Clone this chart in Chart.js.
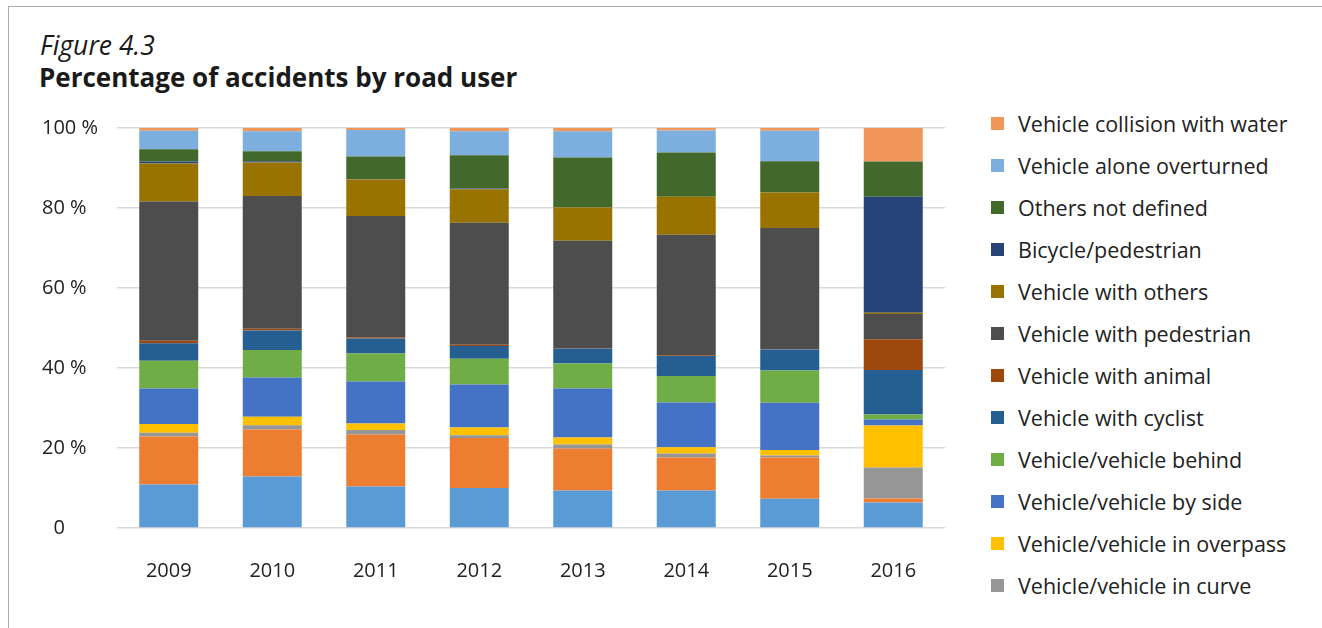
<!DOCTYPE html>
<html>
<head>
<meta charset="utf-8">
<script src="https://cdn.jsdelivr.net/npm/chart.js@4.4.1/dist/chart.umd.min.js"></script>
<style>
  html, body { margin: 0; padding: 0; background: #fff; }
  body { width: 1322px; height: 628px; position: relative; overflow: hidden; font-family: "Open Sans", sans-serif; color: #222; }
  .frame { position: absolute; left: 8px; top: 6px; right: -4px; bottom: -4px; border-left: 1.5px solid #aaa; border-top: 1.5px solid #aaa; }
  .fig { position: absolute; left: 40px; top: 27px; font-size: 26.5px; font-style: italic; color: #1a1a1a; }
  .title { position: absolute; left: 39px; top: 59px; font-size: 26px; font-weight: bold; color: #1a1a1a; }
  #wrap { position: absolute; left: 0; top: 0; width: 960px; height: 628px; }
  #legend { position: absolute; left: 991px; top: 102px; }
  .item { height: 42px; display: flex; align-items: center; font-size: 21.5px; white-space: nowrap; }
  .sw { width: 13px; height: 13px; margin-right: 14px; flex: none; }
</style>
</head>
<body>
<div class="frame"></div>
<div class="fig">Figure 4.3</div>
<div class="title">Percentage of accidents by road user</div>
<div id="wrap"><canvas id="chart"></canvas></div>
<div id="legend"></div>
<script>
const years = ['2009', '2010', '2011', '2012', '2013', '2014', '2015', '2016'];
const yTickLabels = ['\u20070', '20 %', '40 %', '60 %', '80 %', '100 %'];

// bottom to top of each stack
const vvFront     = [10.9, 12.9, 10.4, 10.0,  9.4,  9.4,  7.3,  6.4];
const vvOther     = [12.0, 11.7, 13.0, 12.5, 10.5,  8.2, 10.3,  1.0];
const vvCurve     = [ 0.9,  1.1,  1.1,  0.7,  1.0,  1.0,  0.5,  7.7];
const vvOverpass  = [ 2.2,  2.1,  1.6,  1.9,  1.7,  1.6,  1.4, 10.5];
const vvSide      = [ 8.9,  9.8, 10.5, 10.8, 12.3, 11.2, 11.8,  1.5];
const vvBehind    = [ 6.9,  6.9,  7.0,  6.4,  6.2,  6.6,  8.1,  1.3];
const withCyclist = [ 4.4,  4.9,  3.8,  3.2,  3.8,  5.0,  5.2, 11.1];
const withAnimal  = [ 0.6,  0.4,  0.3,  0.3,  0.1,  0.2,  0.1,  7.7];
const withPed     = [34.8, 33.2, 30.3, 30.5, 26.8, 30.1, 30.3,  6.3];
const withOthers  = [ 9.5,  8.4,  9.1,  8.4,  8.3,  9.5,  8.9,  0.3];
const bicyclePed  = [ 0.5,  0.3,  0.1,  0.2,  0.0,  0.0,  0.0, 29.0];
const notDefined  = [ 3.1,  2.5,  5.7,  8.3, 12.5, 11.1,  7.8,  8.8];
const overturned  = [ 4.6,  5.0,  6.6,  6.0,  6.6,  5.5,  7.6,  0.0];
const water       = [ 0.7,  0.8,  0.6,  0.8,  0.8,  0.8,  0.7,  8.4];

const series = [
  { label: 'Vehicle/vehicle in front', data: vvFront, color: '#5B9BD5', legend: false },
  { label: 'Vehicle/vehicle other', data: vvOther, color: '#ED7D31', legend: false },
  { label: 'Vehicle/vehicle in curve', data: vvCurve, color: '#969696', legend: true },
  { label: 'Vehicle/vehicle in overpass', data: vvOverpass, color: '#FFC000', legend: true },
  { label: 'Vehicle/vehicle by side', data: vvSide, color: '#4472C4', legend: true },
  { label: 'Vehicle/vehicle behind', data: vvBehind, color: '#70AD47', legend: true },
  { label: 'Vehicle with cyclist', data: withCyclist, color: '#255E91', legend: true },
  { label: 'Vehicle with animal', data: withAnimal, color: '#9E480E', legend: true },
  { label: 'Vehicle with pedestrian', data: withPed, color: '#4D4D4D', legend: true },
  { label: 'Vehicle with others', data: withOthers, color: '#997300', legend: true },
  { label: 'Bicycle/pedestrian', data: bicyclePed, color: '#264478', legend: true },
  { label: 'Others not defined', data: notDefined, color: '#43682B', legend: true },
  { label: 'Vehicle alone overturned', data: overturned, color: '#7CAFDD', legend: true },
  { label: 'Vehicle collision with water', data: water, color: '#F1975A', legend: true }
];

const ctx = document.getElementById('chart').getContext('2d');
new Chart(ctx, {
  type: 'bar',
  data: {
    labels: years,
    datasets: series.map(s => ({
      label: s.label,
      data: s.data,
      backgroundColor: s.color,
      borderWidth: 0,
      barPercentage: 0.57,
      categoryPercentage: 1
    }))
  },
  options: {
    responsive: true,
    maintainAspectRatio: false,
    animation: false,
    layout: { padding: { left: 42, top: 128, right: 15, bottom: 14 } },
    plugins: { legend: { display: false }, tooltip: { enabled: false } },
    scales: {
      x: {
        stacked: true,
        grid: { display: false, drawTicks: false },
        border: { display: false },
        ticks: { color: '#222', padding: 31, font: { family: 'Open Sans', size: 20 } }
      },
      y: {
        stacked: true,
        min: 0,
        max: 100,
        grid: { color: '#d9d9d9', lineWidth: 1.5, drawTicks: false },
        border: { display: false },
        ticks: {
          stepSize: 20,
          crossAlign: 'far',
          color: '#222',
          font: { family: 'Open Sans', size: 20 },
          callback: (v, i) => yTickLabels[i]
        },
        afterFit: scale => { scale.width = 75; }
      }
    }
  }
});

// Legend (top of stack first)
const legend = document.getElementById('legend');
series.slice().reverse().filter(s => s.legend).forEach(s => {
  const item = document.createElement('div');
  item.className = 'item';
  item.innerHTML = `<span class="sw" style="background:${s.color}"></span>${s.label}`;
  legend.appendChild(item);
});
</script>
</body>
</html>
